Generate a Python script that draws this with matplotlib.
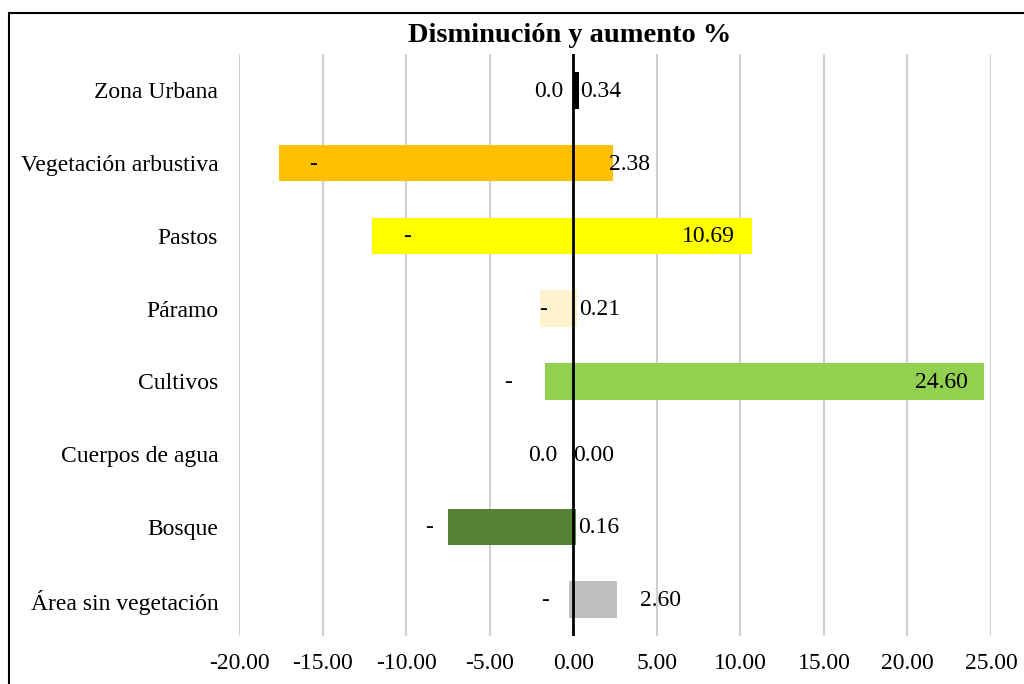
import matplotlib.pyplot as plt
from matplotlib.patches import Rectangle

plt.rcParams['font.family'] = ['Liberation Serif', 'DejaVu Serif']

# Land cover classes, top to bottom
categories = ["Zona Urbana", "Vegetación arbustiva", "Pastos", "Páramo",
              "Cultivos", "Cuerpos de agua", "Bosque", "Área sin vegetación"]
disminucion = [0.0, -17.60, -12.04, -1.99, -1.69, 0.0, -7.49, -0.24]
aumento = [0.34, 2.38, 10.69, 0.21, 24.60, 0.00, 0.16, 2.60]
neg_labels = ["0.0", "-", "-", "-", "-", "0.0", "-", "-"]
colors = ["#000000", "#FFC000", "#FFFF00", "#FFF2CC",
          "#92D050", "#5B9BD5", "#548235", "#BFBFBF"]
xticks = [-20, -15, -10, -5, 0, 5, 10, 15, 20, 25]

# label placement: (pixel offset from bar end, horizontal alignment)
neg_place = [(-10, 'right'), (34, 'center'), (35, 'center'), (3, 'center'),
             (-37, 'center'), (-16, 'right'), (-19, 'center'), (-24, 'center')]
pos_place = [(1, 'left'), (-4, 'left'), (-17, 'right'), (2, 'left'),
             (-16, 'right'), (0, 'left'), (2, 'left'), (23, 'left')]

FS = 17

fig = plt.figure(figsize=(10.24, 6.84), dpi=100)
ax = fig.add_axes([239 / 1024, 1 - 636 / 684, 752 / 1024, 582 / 684])

y = list(range(len(categories)))
ax.barh(y, disminucion, height=0.5, color=colors, zorder=2)
ax.barh(y, aumento, height=0.5, color=colors, zorder=2)
ax.axvline(0, color='black', lw=2, zorder=3)

for i in y:
    dx, ha = neg_place[i]
    ax.annotate(neg_labels[i], (disminucion[i], i), xytext=(dx, -1),
                textcoords='offset pixels', ha=ha, va='center', fontsize=FS, zorder=4)
    dx, ha = pos_place[i]
    ax.annotate(f"{aumento[i]:.2f}", (aumento[i], i), xytext=(dx, -1),
                textcoords='offset pixels', ha=ha, va='center', fontsize=FS, zorder=4)

ax.set_xlim(-20, 25)
ax.set_ylim(len(categories) - 0.5, -0.5)
ax.set_xticks(xticks)
ax.set_xticklabels([f"{t:.2f}" for t in xticks], fontsize=FS)
ax.set_yticks(y)
ax.set_yticklabels(categories, fontsize=FS)
ax.tick_params(axis='x', length=0, pad=12)
ax.tick_params(axis='y', length=0, pad=15)
ax.grid(axis='x', color='#D0D0D0', lw=1.5, zorder=1)
for s in ax.spines.values():
    s.set_visible(False)

fig.text(570 / 1024, 1 - 36 / 684, "Disminución y aumento %", ha='center', va='center',
         fontsize=20.5, fontweight='bold')

# outer chart frame
fig.patches.append(Rectangle((9 / 1024, -0.1), 1.2, 1 - 13 / 684 + 0.1,
                             transform=fig.transFigure, fill=False, ec='black', lw=1.5))

fig.savefig("out.png", dpi=100)
